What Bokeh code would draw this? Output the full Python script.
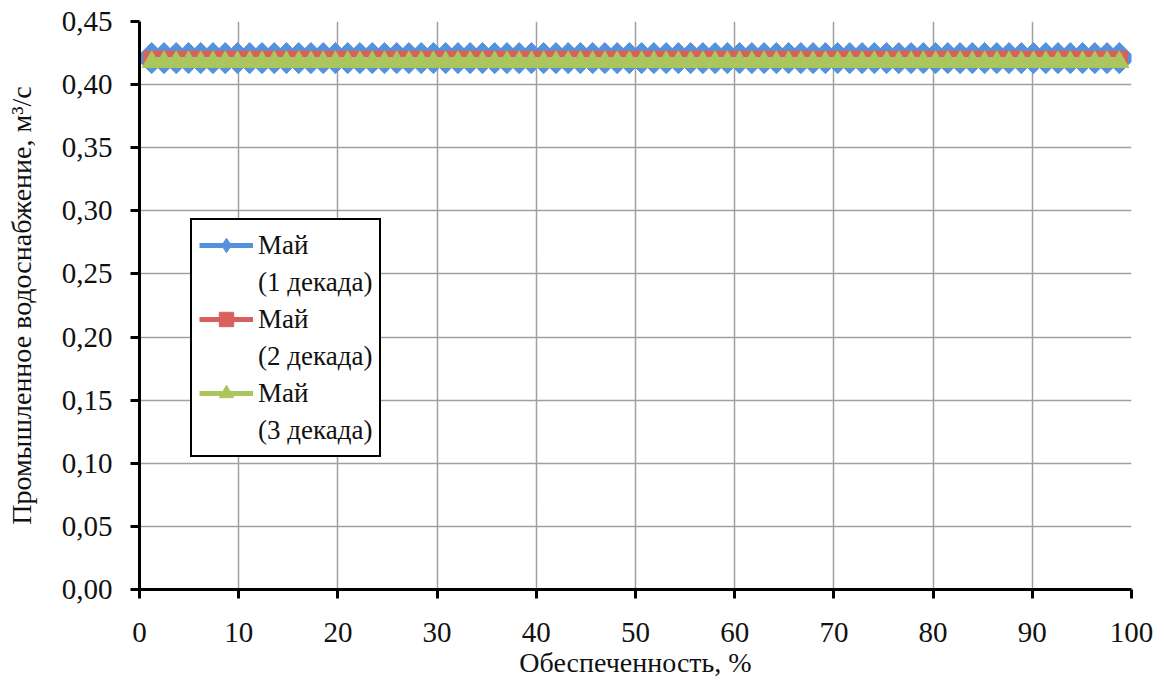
from bokeh.plotting import figure
from bokeh.models import ColumnDataSource, Legend, LegendItem, CustomJSTickFormatter, FixedTicker
from bokeh.embed import file_html
from bokeh.resources import INLINE
import numpy as np

# Обеспеченность, %
prob = [1.23, 2.47, 3.70, 4.94, 6.17, 7.41, 8.64, 9.88, 11.11, 12.35,
        13.58, 14.81, 16.05, 17.28, 18.52, 19.75, 20.99, 22.22, 23.46, 24.69,
        25.93, 27.16, 28.40, 29.63, 30.86, 32.10, 33.33, 34.57, 35.80, 37.04,
        38.27, 39.51, 40.74, 41.98, 43.21, 44.44, 45.68, 46.91, 48.15, 49.38,
        50.62, 51.85, 53.09, 54.32, 55.56, 56.79, 58.02, 59.26, 60.49, 61.73,
        62.96, 64.20, 65.43, 66.67, 67.90, 69.14, 70.37, 71.60, 72.84, 74.07,
        75.31, 76.54, 77.78, 79.01, 80.25, 81.48, 82.72, 83.95, 85.19, 86.42,
        87.65, 88.89, 90.12, 91.36, 92.59, 93.83, 95.06, 96.30, 97.53, 98.77]

may_1 = [0.421, 0.421, 0.421, 0.421, 0.421, 0.421, 0.421, 0.421, 0.421, 0.421,
         0.421, 0.421, 0.421, 0.421, 0.421, 0.421, 0.421, 0.421, 0.421, 0.421,
         0.421, 0.421, 0.421, 0.421, 0.421, 0.421, 0.421, 0.421, 0.421, 0.421,
         0.421, 0.421, 0.421, 0.421, 0.421, 0.421, 0.421, 0.421, 0.421, 0.421,
         0.421, 0.421, 0.421, 0.421, 0.421, 0.421, 0.421, 0.421, 0.421, 0.421,
         0.421, 0.421, 0.421, 0.421, 0.421, 0.421, 0.421, 0.421, 0.421, 0.421,
         0.421, 0.421, 0.421, 0.421, 0.421, 0.421, 0.421, 0.421, 0.421, 0.421,
         0.421, 0.421, 0.421, 0.421, 0.421, 0.421, 0.421, 0.421, 0.421, 0.421]

may_2 = [0.4202, 0.4202, 0.4202, 0.4202, 0.4202, 0.4202, 0.4202, 0.4202, 0.4202, 0.4202,
         0.4202, 0.4202, 0.4202, 0.4202, 0.4202, 0.4202, 0.4202, 0.4202, 0.4202, 0.4202,
         0.4202, 0.4202, 0.4202, 0.4202, 0.4202, 0.4202, 0.4202, 0.4202, 0.4202, 0.4202,
         0.4202, 0.4202, 0.4202, 0.4202, 0.4202, 0.4202, 0.4202, 0.4202, 0.4202, 0.4202,
         0.4202, 0.4202, 0.4202, 0.4202, 0.4202, 0.4202, 0.4202, 0.4202, 0.4202, 0.4202,
         0.4202, 0.4202, 0.4202, 0.4202, 0.4202, 0.4202, 0.4202, 0.4202, 0.4202, 0.4202,
         0.4202, 0.4202, 0.4202, 0.4202, 0.4202, 0.4202, 0.4202, 0.4202, 0.4202, 0.4202,
         0.4202, 0.4202, 0.4202, 0.4202, 0.4202, 0.4202, 0.4202, 0.4202, 0.4202, 0.4202]

may_3 = [0.418, 0.418, 0.418, 0.418, 0.418, 0.418, 0.418, 0.418, 0.418, 0.418,
         0.418, 0.418, 0.418, 0.418, 0.418, 0.418, 0.418, 0.418, 0.418, 0.418,
         0.418, 0.418, 0.418, 0.418, 0.418, 0.418, 0.418, 0.418, 0.418, 0.418,
         0.418, 0.418, 0.418, 0.418, 0.418, 0.418, 0.418, 0.418, 0.418, 0.418,
         0.418, 0.418, 0.418, 0.418, 0.418, 0.418, 0.418, 0.418, 0.418, 0.418,
         0.418, 0.418, 0.418, 0.418, 0.418, 0.418, 0.418, 0.418, 0.418, 0.418,
         0.418, 0.418, 0.418, 0.418, 0.418, 0.418, 0.418, 0.418, 0.418, 0.418,
         0.418, 0.418, 0.418, 0.418, 0.418, 0.418, 0.418, 0.418, 0.418, 0.418]

x_ticks = [0, 10, 20, 30, 40, 50, 60, 70, 80, 90, 100]
y_ticks = [0.0, 0.05, 0.10, 0.15, 0.20, 0.25, 0.30, 0.35, 0.40, 0.45]

series_names = ["Май", "Май", "Май"]
series_sub = ["(1 декада)", "(2 декада)", "(3 декада)"]

FONT = "'Liberation Serif', serif"
BLUE = "#5592dc"
RED = "#d8605e"
GREEN = "#aac65c"

p = figure(width=1156, height=680, output_backend="svg", toolbar_location=None,
           x_range=(0, 100), y_range=(0, 0.45),
           min_border_left=139, min_border_right=25, min_border_top=21, min_border_bottom=89,
           background_fill_color="white", border_fill_color="white")
p.outline_line_color = None

src = ColumnDataSource(dict(x=prob, y1=may_1, y2=may_2, y3=may_3))

p.line("x", "y1", source=src, line_color=BLUE, line_width=6)
p.scatter("x", "y1", source=src, marker="square", angle=np.pi / 4, size=22,
          fill_color=BLUE, line_color=BLUE)
p.line("x", "y2", source=src, line_color=RED, line_width=6)
p.scatter("x", "y2", source=src, marker="square", size=16,
          fill_color=RED, line_color=RED)
p.line("x", "y3", source=src, line_color=GREEN, line_width=10)
p.scatter("x", "y3", source=src, marker="triangle", size=19,
          fill_color=GREEN, line_color=GREEN)

# legend-only renderers, placed outside the visible ranges (clipped away)
lg = ColumnDataSource(dict(x=[-50, -40], y=[-1, -1]))
ll1 = p.line("x", "y", source=lg, line_color=BLUE, line_width=5)
lm1 = p.scatter("x", "y", source=lg, marker="diamond", size=10, fill_color=BLUE, line_color=BLUE)
ll2 = p.line("x", "y", source=lg, line_color=RED, line_width=5)
lm2 = p.scatter("x", "y", source=lg, marker="square", size=10, fill_color=RED, line_color=RED)
ll3 = p.line("x", "y", source=lg, line_color=GREEN, line_width=5)
lm3 = p.scatter("x", "y", source=lg, marker="triangle", size=10, fill_color=GREEN, line_color=GREEN)
dummy = p.line("x", "y", source=lg, line_alpha=0)

items = [
    LegendItem(label=series_names[0], renderers=[ll1, lm1]),
    LegendItem(label=series_sub[0], renderers=[dummy]),
    LegendItem(label=series_names[1], renderers=[ll2, lm2]),
    LegendItem(label=series_sub[1], renderers=[dummy]),
    LegendItem(label=series_names[2], renderers=[ll3, lm3]),
    LegendItem(label=series_sub[2], renderers=[dummy]),
]
legend = Legend(items=items, location=(51, 132), orientation="vertical",
                label_text_font=FONT, label_text_font_size="27px", label_text_color="#111111",
                label_height=36, glyph_height=36, glyph_width=54, spacing=1,
                label_standoff=5, padding=7, margin=0,
                border_line_color="black", border_line_width=2, border_line_alpha=1.0,
                background_fill_color="white", background_fill_alpha=1.0)
p.add_layout(legend, "center")

# axes
p.xaxis.ticker = FixedTicker(ticks=x_ticks)
p.yaxis.ticker = FixedTicker(ticks=y_ticks)
p.yaxis.formatter = CustomJSTickFormatter(code="return tick.toFixed(2).replace('.', ',');")

for ax in (p.xaxis, p.yaxis):
    ax.axis_line_color = "black"
    ax.axis_line_width = 3
    ax.major_tick_line_color = "black"
    ax.major_tick_line_width = 3
    ax.major_tick_out = 9
    ax.major_tick_in = 0
    ax.minor_tick_line_color = None
    ax.major_label_text_font = FONT
    ax.major_label_text_font_size = "29px"
    ax.major_label_text_color = "#111111"
    ax.axis_label_text_font = FONT
    ax.axis_label_text_font_size = "28px"
    ax.axis_label_text_font_style = "normal"
    ax.axis_label_text_color = "#111111"

p.xaxis.axis_label = "Обеспеченность, %"
p.yaxis.axis_label = "Промышленное водоснабжение, м³/с"
p.xaxis.major_label_standoff = 24
p.yaxis.major_label_standoff = 18
p.xaxis.axis_label_standoff = 2
p.yaxis.axis_label_standoff = 22

p.xgrid.grid_line_color = "#a0a0a0"
p.ygrid.grid_line_color = "#a0a0a0"
p.xgrid.grid_line_width = 1.5
p.ygrid.grid_line_width = 1.5

open("out.html", "w").write(file_html(p, INLINE))
